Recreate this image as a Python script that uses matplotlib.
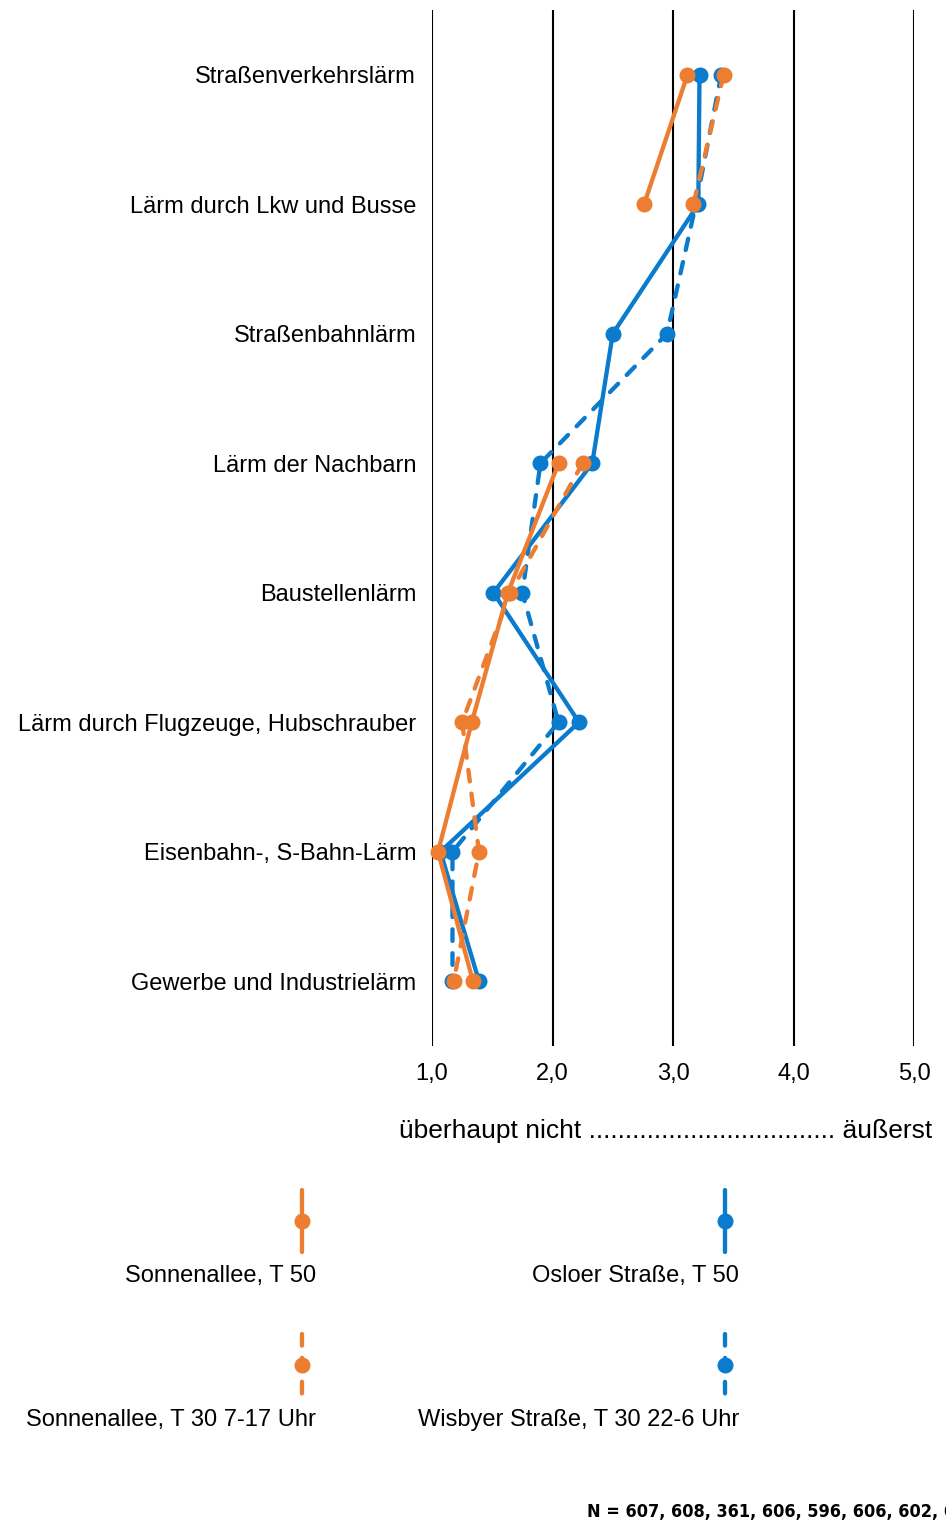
import numpy as np
import matplotlib
matplotlib.use('Agg')
import matplotlib.pyplot as plt
from matplotlib.lines import Line2D

plt.rcParams['font.family'] = ['Liberation Sans', 'DejaVu Sans']

# ---- data (mean rating, 1 = ueberhaupt nicht ... 5 = aeusserst) ----
categories = ['Straßenverkehrslärm', 'Lärm durch Lkw und Busse', 'Straßenbahnlärm',
              'Lärm der Nachbarn', 'Baustellenlärm', 'Lärm durch Flugzeuge, Hubschrauber',
              'Eisenbahn-, S-Bahn-Lärm', 'Gewerbe und Industrielärm']
sonnen_t50 = [3.12, 2.76, np.nan, 2.05, 1.63, 1.33, 1.05, 1.34]
osloer_t50 = [3.22, 3.21, 2.50, 2.33, 1.51, 2.22, 1.07, 1.39]
sonnen_t30 = [3.42, 3.17, np.nan, 2.25, 1.65, 1.25, 1.39, 1.18]
wisbyer_t30 = [3.40, 3.19, 2.95, 1.90, 1.75, 2.05, 1.17, 1.17]
x_ticks = [1, 2, 3, 4, 5]
x_ticklabels = ['1,0', '2,0', '3,0', '4,0', '5,0']
series_labels = ['Sonnenallee, T 50', 'Osloer Straße, T 50',
                 'Sonnenallee, T 30 7-17 Uhr', 'Wisbyer Straße, T 30 22-6 Uhr']
n_text = 'N = 607, 608, 361, 606, 596, 606, 602, 6'

ORANGE = '#ED7D31'
BLUE = '#0A7BCD'
W, H = 946, 1526
DASH = (0, (2.7, 2.85))


def fx(px):
    return px / W


def fy(py):
    return 1 - py / H


fig = plt.figure(figsize=(W / 100, H / 100), dpi=100)
ax = fig.add_axes([fx(432), fy(1046), fx(914) - fx(432), (1046 - 10) / H])

ypos = np.arange(len(categories))
style = dict(lw=3.1, marker='o', ms=10.5, clip_on=False, solid_capstyle='round',
             dash_capstyle='round')
ax.plot(osloer_t50, ypos, color=BLUE, ls='-', **style)
ax.plot(wisbyer_t30, ypos, color=BLUE, ls=DASH, **style)
ax.plot(sonnen_t50, ypos, color=ORANGE, ls='-', **style)
ax.plot(sonnen_t30, ypos, color=ORANGE, ls=DASH, **style)

ax.set_xlim(1, 5)
ax.set_ylim(len(categories) - 0.5, -0.5)
ax.set_xticks(x_ticks)
ax.set_xticklabels(x_ticklabels, fontsize=17)
ax.set_yticks(ypos)
ax.set_yticklabels(categories, fontsize=17)
ax.tick_params(axis='x', length=0, pad=12)
ax.tick_params(axis='y', length=0, pad=11.5)
for v in x_ticks:
    ax.axvline(v, color='black', lw=1.5, zorder=0)
for s in ax.spines.values():
    s.set_visible(False)

fig.text(fx(666), fy(1131), 'überhaupt nicht ' + '.' * 34 + ' äußerst',
         ha='center', va='center', fontsize=19)

# ---- legend drawn by hand: vertical handles, labels underneath ----
leg_cols = [302, 725]
leg_rows = [1221, 1365]
leg_styles = [(ORANGE, '-'), (BLUE, '-'), (ORANGE, DASH), (BLUE, DASH)]
for i, lab in enumerate(series_labels):
    cx = leg_cols[i % 2]
    cy = leg_rows[i // 2]
    col, ls = leg_styles[i]
    fig.add_artist(Line2D([fx(cx), fx(cx)], [fy(cy - 31), fy(cy + 31)],
                          transform=fig.transFigure, color=col, ls=ls, lw=3.1,
                          solid_capstyle='round', dash_capstyle='round'))
    fig.add_artist(Line2D([fx(cx)], [fy(cy)], transform=fig.transFigure,
                          color=col, marker='o', ms=10.5, ls='none'))
    fig.text(fx(cx + 14), fy(cy + 55), lab, ha='right', va='center', fontsize=17)

# sample sizes, cut at the right edge as in the source
fig.text(fx(587), fy(1512), n_text, ha='left', va='center', fontsize=13,
         fontweight='bold', fontstretch='condensed', family='DejaVu Sans')

fig.savefig('out.png', dpi=100)
